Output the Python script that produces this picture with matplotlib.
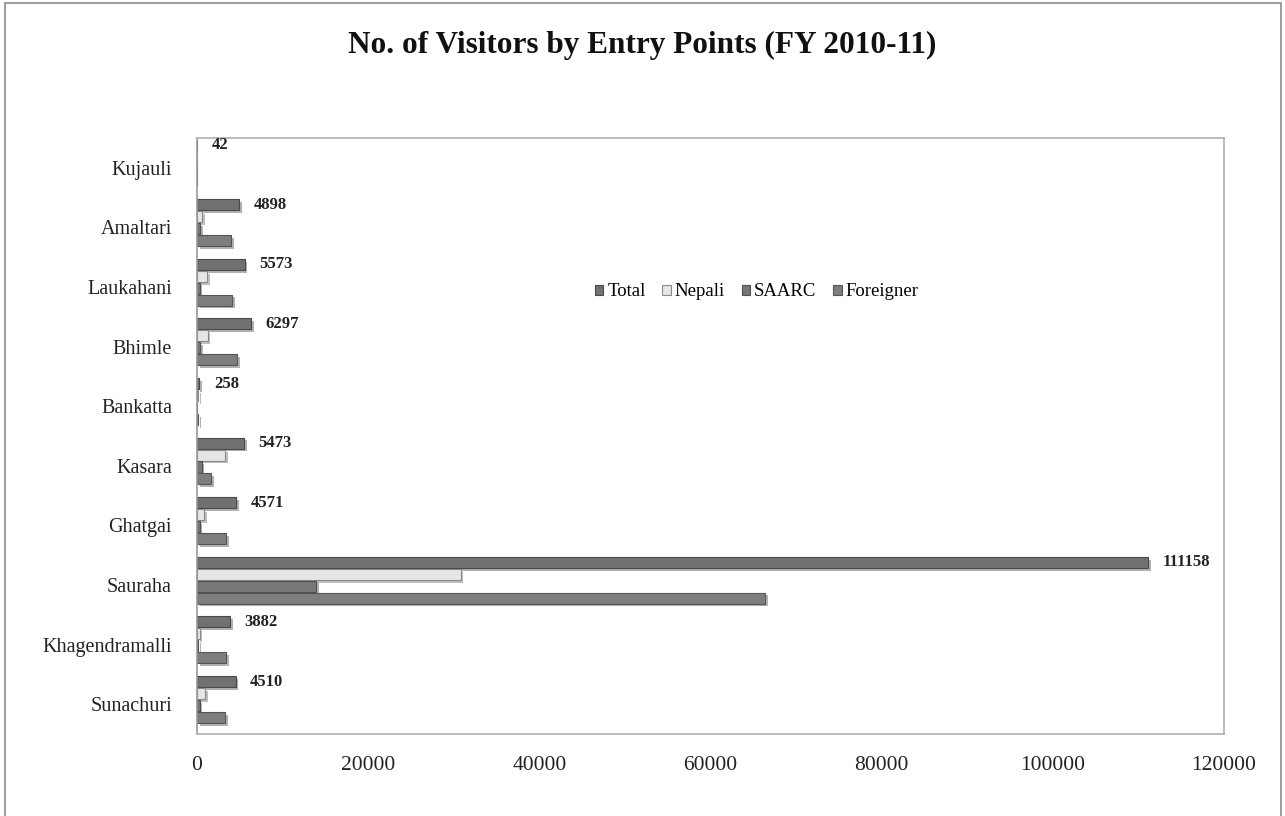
import matplotlib
matplotlib.use("Agg")
import matplotlib.pyplot as plt
import matplotlib.patheffects as pe
from matplotlib.patches import Rectangle, Patch
import numpy as np

plt.rcParams['font.family'] = ['Liberation Serif', 'DejaVu Serif']

categories = ["Sunachuri", "Khagendramalli", "Sauraha", "Ghatgai", "Kasara",
              "Bankatta", "Bhimle", "Laukahani", "Amaltari", "Kujauli"]
total = [4510, 3882, 111158, 4571, 5473, 258, 6297, 5573, 4898, 42]
nepali = [950, 300, 30800, 850, 3300, 100, 1250, 1200, 580, 30]
saarc = [300, 150, 13940, 300, 550, 18, 400, 300, 350, 0]
foreigner = [3260, 3432, 66418, 3421, 1623, 140, 4647, 4073, 3968, 12]

series_names = ["Total", "Nepali", "SAARC", "Foreigner"]
series_vals = [total, nepali, saarc, foreigner]
face_colors = ["#717171", "#e6e6e6", "#787878", "#7e7e7e"]
edge_colors = ["#4a4a4a", "#8a8a8a", "#505050", "#555555"]
shift = 0.08
offsets = [0.3 + shift, 0.1 + shift, -0.1 + shift, -0.3 + shift]
bar_h = 0.185

fig = plt.figure(figsize=(12.85, 8.16), dpi=100)
fig.patch.set_facecolor("white")
fig.add_artist(Rectangle((5 / 1285, -0.05), 1276 / 1285, 1.05 - 3 / 816,
                         transform=fig.transFigure, fill=False,
                         edgecolor="#8c8c8c", linewidth=1.2))

ax = fig.add_axes([197 / 1285, 1 - 734 / 816, 1027 / 1285, 596 / 816])
y = np.arange(len(categories))
shadow = [pe.SimplePatchShadow(offset=(2, -2), alpha=0.35), pe.Normal()]
for name, vals, fc, ec, off in zip(series_names, series_vals, face_colors, edge_colors, offsets):
    bars = ax.barh(y + off, vals, height=bar_h, color=fc, edgecolor=ec,
                   linewidth=0.8, label=name)
    for b in bars:
        b.set_path_effects(shadow)

for yi, v in zip(y, total):
    ax.text(v + 1700, yi + offsets[0], f"{v}", ha="left", va="center",
            fontsize=12, fontweight="bold", color="#222222")

ax.set_xlim(0, 120000)
ax.set_ylim(-0.5, 9.5)
ax.set_xticks(np.arange(0, 120001, 20000))
ax.set_yticks(y)
ax.set_yticklabels(categories)
ax.tick_params(axis="both", length=0, colors="#222222")
ax.tick_params(axis="y", pad=18, labelsize=14.5)
ax.tick_params(axis="x", pad=16, labelsize=15.5)
for s in ax.spines.values():
    s.set_color("#b0b0b0")
    s.set_linewidth(1.2)
ax.spines["left"].set_color("#9a9a9a")

proxies = [Patch(facecolor=fc, edgecolor=ec, linewidth=0.8)
           for fc, ec in zip(face_colors, edge_colors)]
leg = ax.legend(handles=proxies, labels=series_names, ncol=4, loc="center",
                bbox_to_anchor=(0.545, 0.742), frameon=False, fontsize=13.5,
                handlelength=0.45, handleheight=0.45, handletextpad=0.2,
                columnspacing=0.9)

fig.text(0.5, 1 - 45 / 816, "No. of Visitors by Entry Points (FY 2010-11)",
         ha="center", va="center", fontsize=22.5, fontweight="bold", color="#111111")

fig.savefig("out.png", dpi=100)
